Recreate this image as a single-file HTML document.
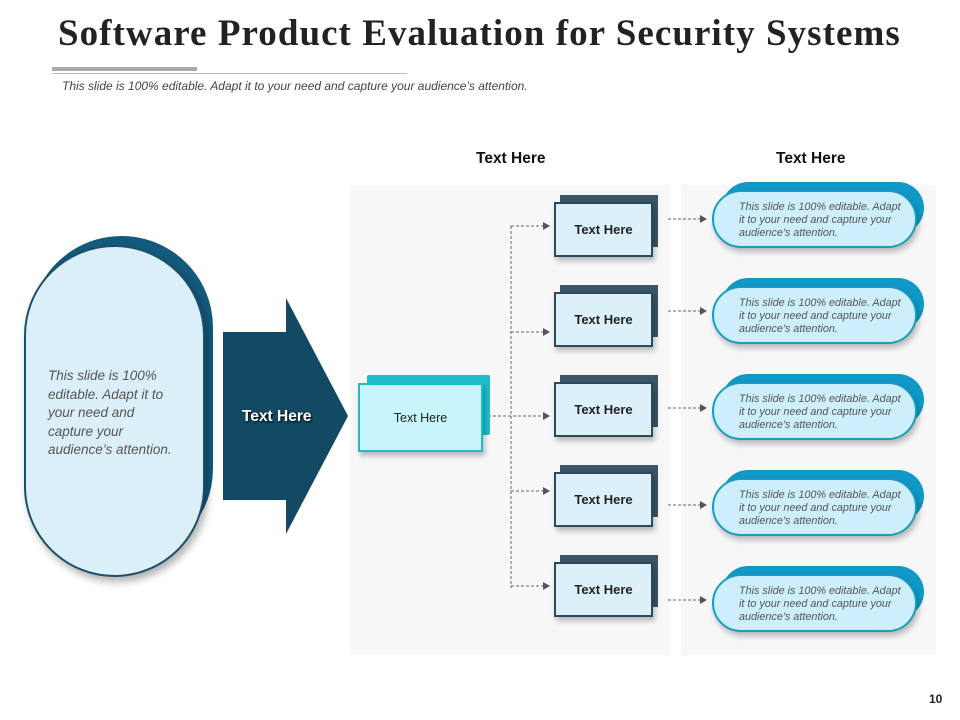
<!DOCTYPE html>
<html><head><style>
body{margin:0;width:960px;height:720px;background:#fff;position:relative;overflow:hidden;font-family:"Liberation Sans",sans-serif}
.a{position:absolute;box-sizing:border-box}
.t{position:absolute;white-space:nowrap}
.sb{background:#3b5567}
.sf{background:#dcf0fa;border:2px solid #2d4a5c;box-shadow:2px 4px 5px rgba(0,0,0,.25);display:flex;align-items:center;justify-content:center;font-size:13px;font-weight:bold;color:#222}
.pb{background:#0f98c8;border-radius:28px}
.pf{background:#cdeffc;border:2px solid #1a9bc4;border-radius:30px;box-shadow:2px 4px 6px rgba(0,0,0,.25);font-size:10.8px;font-style:italic;color:#555;line-height:13px;padding:9px 0 0 25px;white-space:nowrap}
</style></head><body>
<div class="t" style="left:58px;top:12px;font-family:'Liberation Serif',serif;font-weight:bold;font-size:37px;letter-spacing:1.05px;color:#222">Software Product Evaluation for Security Systems</div>
<div class="a" style="left:52px;top:67px;width:145px;height:4px;background:#aaa"></div>
<div class="a" style="left:52px;top:73px;width:355px;height:1px;background:#bbb"></div>
<div class="t" style="left:62px;top:79px;font-size:12px;font-style:italic;color:#444">This slide is 100% editable. Adapt it to your need and capture your audience’s attention.</div>

<div class="a" style="left:350px;top:185px;width:320px;height:470px;background:#f7f7f7"></div>
<div class="a" style="left:681px;top:185px;width:255px;height:470px;background:#f7f7f7"></div>
<div class="t" style="left:476px;top:150px;font-size:15.5px;font-weight:bold;color:#111">Text Here</div>
<div class="t" style="left:776px;top:150px;font-size:15.5px;font-weight:bold;color:#111">Text Here</div>

<div class="a" style="left:30px;top:236px;width:183px;height:324px;border-radius:92px;background:#135a7d"></div>
<div class="a" style="left:24px;top:245px;width:181px;height:332px;border-radius:91px;background:#dbeff9;border:2px solid #1b4f6b;box-shadow:3px 5px 8px rgba(0,0,0,.3)"></div>
<div class="t" style="left:48px;top:367px;font-size:13.5px;font-style:italic;color:#555;line-height:18.5px;white-space:normal;width:132px">This slide is 100% editable. Adapt it to your need and capture your audience’s attention.</div>

<svg class="a" style="left:0;top:0" width="960" height="720">
<polygon points="223,332 286,332 286,298 348,416 286,534 286,500 223,500" fill="#134a63"/>
<g stroke="#666" stroke-width="1" stroke-dasharray="3,2" fill="none">
<line x1="511" y1="226" x2="511" y2="588"/>
<line x1="511" y1="226" x2="543" y2="226"/>
<line x1="511" y1="332" x2="543" y2="332"/>
<line x1="483" y1="416" x2="543" y2="416"/>
<line x1="511" y1="491" x2="543" y2="491"/>
<line x1="511" y1="586" x2="543" y2="586"/>
<line x1="668" y1="219" x2="700" y2="219"/>
<line x1="668" y1="311" x2="700" y2="311"/>
<line x1="668" y1="408" x2="700" y2="408"/>
<line x1="668" y1="505" x2="700" y2="505"/>
<line x1="668" y1="600" x2="700" y2="600"/>
</g>
<g fill="#555">
<polygon points="543,222 550,226 543,230"/><polygon points="543,328 550,332 543,336"/><polygon points="543,412 550,416 543,420"/><polygon points="543,487 550,491 543,495"/><polygon points="543,582 550,586 543,590"/>
<polygon points="700,215 707,219 700,223"/><polygon points="700,307 707,311 700,315"/><polygon points="700,404 707,408 700,412"/><polygon points="700,501 707,505 700,509"/><polygon points="700,596 707,600 700,604"/>
</g>
</svg>
<div class="t" style="left:242px;top:408px;font-size:15.5px;font-weight:bold;color:#fff;text-shadow:1px 1px 2px #000">Text Here</div>

<div class="a" style="left:367px;top:375px;width:123px;height:60px;background:#1fbcc8;border-radius:2px"></div>
<div class="a sf" style="left:358px;top:383px;width:125px;height:69px;background:#c8f5fb;border-color:#1fbcc8;font-size:12.5px;font-weight:normal">Text Here</div>

<div class="a sb" style="left:560px;top:195px;width:98px;height:52px"></div><div class="a sf" style="left:554px;top:202px;width:99px;height:55px">Text Here</div>
<div class="a sb" style="left:560px;top:285px;width:98px;height:52px"></div><div class="a sf" style="left:554px;top:292px;width:99px;height:55px">Text Here</div>
<div class="a sb" style="left:560px;top:375px;width:98px;height:52px"></div><div class="a sf" style="left:554px;top:382px;width:99px;height:55px">Text Here</div>
<div class="a sb" style="left:560px;top:465px;width:98px;height:52px"></div><div class="a sf" style="left:554px;top:472px;width:99px;height:55px">Text Here</div>
<div class="a sb" style="left:560px;top:555px;width:98px;height:52px"></div><div class="a sf" style="left:554px;top:562px;width:99px;height:55px">Text Here</div>

<div class="a pb" style="left:722px;top:182px;width:202px;height:52px"></div><div class="a pf" style="left:712px;top:190px;width:205px;height:58px">This slide is 100% editable. Adapt<br>it to your need and capture your<br>audience’s attention.</div>
<div class="a pb" style="left:722px;top:278px;width:202px;height:52px"></div><div class="a pf" style="left:712px;top:286px;width:205px;height:58px">This slide is 100% editable. Adapt<br>it to your need and capture your<br>audience’s attention.</div>
<div class="a pb" style="left:722px;top:374px;width:202px;height:52px"></div><div class="a pf" style="left:712px;top:382px;width:205px;height:58px">This slide is 100% editable. Adapt<br>it to your need and capture your<br>audience’s attention.</div>
<div class="a pb" style="left:722px;top:470px;width:202px;height:52px"></div><div class="a pf" style="left:712px;top:478px;width:205px;height:58px">This slide is 100% editable. Adapt<br>it to your need and capture your<br>audience’s attention.</div>
<div class="a pb" style="left:722px;top:566px;width:202px;height:52px"></div><div class="a pf" style="left:712px;top:574px;width:205px;height:58px">This slide is 100% editable. Adapt<br>it to your need and capture your<br>audience’s attention.</div>

<div class="t" style="left:929px;top:692px;font-size:12px;font-weight:bold;color:#222">10</div>
</body></html>
